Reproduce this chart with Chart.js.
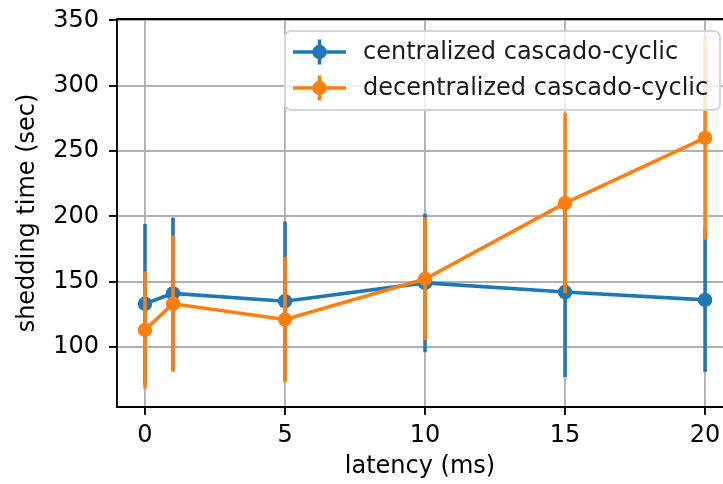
<!DOCTYPE html>
<html>
<head>
<meta charset="utf-8">
<script src="https://cdn.jsdelivr.net/npm/chart.js@4"></script>
<style>
  html, body { margin: 0; padding: 0; background: #fff; }
  #wrap { width: 723px; height: 484px; }
</style>
</head>
<body>
<div id="wrap"><canvas id="grafico"></canvas></div>
<script>
// latency values (ms)
const latency = [0, 1, 5, 10, 15, 20];
// shedding time (sec), mean and half error bar
const centralized = [133, 141, 135, 149, 142, 136];
const centralizedErr = [61, 58, 61, 53, 65, 55];
const decentralized = [113, 133, 121, 152, 210, 260];
const decentralizedErr = [45, 52, 48, 47, 69, 78];
const xTicks = [0, 5, 10, 15, 20];
const yTicks = [100, 150, 200, 250, 300, 350];
const seriesNames = ['centralized cascado-cyclic', 'decentralized cascado-cyclic'];

const BLUE = '#1f77b4';
const ORANGE = '#ff7f0e';
const FONT = 'DejaVu Sans';
const LW = 3.6;

Chart.defaults.font.family = FONT;
Chart.defaults.font.size = 24;
Chart.defaults.color = '#000';

function points(ys) {
  return latency.map((x, i) => ({ x: x, y: ys[i] }));
}

/* error bars, drawn under each dataset's line */
const errorBars = {
  id: 'errorBars',
  beforeDatasetDraw(chart, args) {
    const ds = chart.data.datasets[args.index];
    const xs = chart.scales.x, ys = chart.scales.y;
    const ctx = chart.ctx;
    const area = chart.chartArea;
    ctx.save();
    ctx.beginPath();
    ctx.rect(area.left, area.top, area.right - area.left, area.bottom - area.top);
    ctx.clip();
    ctx.strokeStyle = ds.borderColor;
    ctx.lineWidth = LW;
    ctx.beginPath();
    ds.data.forEach((p, i) => {
      const px = xs.getPixelForValue(p.x);
      ctx.moveTo(px, ys.getPixelForValue(p.y - ds.err[i]));
      ctx.lineTo(px, ys.getPixelForValue(p.y + ds.err[i]));
    });
    ctx.stroke();
    ctx.restore();
  }
};

/* top spine + matplotlib style legend box */
const frameLegend = {
  id: 'frameLegend',
  afterDraw(chart) {
    const ctx = chart.ctx;
    const a = chart.chartArea;
    ctx.save();
    ctx.strokeStyle = '#000';
    ctx.lineWidth = 1.9;
    ctx.beginPath();
    ctx.moveTo(a.left - 1, a.top);
    ctx.lineTo(a.right, a.top);
    ctx.stroke();

    // legend box
    const bx = 285, by = 31, bw = 435, bh = 79, r = 6;
    ctx.beginPath();
    ctx.moveTo(bx + r, by);
    ctx.arcTo(bx + bw, by, bx + bw, by + bh, r);
    ctx.arcTo(bx + bw, by + bh, bx, by + bh, r);
    ctx.arcTo(bx, by + bh, bx, by, r);
    ctx.arcTo(bx, by, bx + bw, by, r);
    ctx.closePath();
    ctx.fillStyle = 'rgba(255,255,255,0.8)';
    ctx.fill();
    ctx.strokeStyle = '#d6d6d6';
    ctx.lineWidth = 1.9;
    ctx.stroke();

    const colors = [BLUE, ORANGE];
    const rows = [52, 88];
    rows.forEach((yy, i) => {
      ctx.strokeStyle = colors[i];
      ctx.fillStyle = colors[i];
      ctx.lineWidth = LW;
      ctx.beginPath();
      ctx.moveTo(293, yy);
      ctx.lineTo(346, yy);
      ctx.moveTo(319.5, yy - 12.5);
      ctx.lineTo(319.5, yy + 12.5);
      ctx.stroke();
      ctx.beginPath();
      ctx.arc(319.5, yy, 7.2, 0, Math.PI * 2);
      ctx.fill();
      ctx.fillStyle = '#1a1a1a';
      ctx.font = '24px "' + FONT + '"';
      ctx.textBaseline = 'middle';
      ctx.fillText(seriesNames[i], 363, yy + 1);
    });
    ctx.restore();
  }
};

const ctx = document.getElementById('grafico');
const myChart = new Chart(ctx, {
  type: 'line',
  data: {
    datasets: [{
      label: seriesNames[0],
      data: points(centralized),
      err: centralizedErr,
      borderColor: BLUE,
      backgroundColor: BLUE,
      borderWidth: LW,
      pointRadius: 7.2,
      pointBorderWidth: 0,
      pointBackgroundColor: BLUE,
      order: 1
    }, {
      label: seriesNames[1],
      data: points(decentralized),
      err: decentralizedErr,
      borderColor: ORANGE,
      backgroundColor: ORANGE,
      borderWidth: LW,
      pointRadius: 7.2,
      pointBorderWidth: 0,
      pointBackgroundColor: ORANGE,
      order: 0
    }]
  },
  options: {
    responsive: true,
    maintainAspectRatio: false,
    animation: false,
    layout: { autoPadding: false, padding: { top: 19, left: 0, right: 0, bottom: 0 } },
    scales: {
      x: {
        type: 'linear',
        min: -1,
        max: 20.64,
        afterFit: (s) => { s.height = 77; s.paddingLeft = 0; s.paddingRight = 0; },
        afterBuildTicks: (s) => { s.ticks = xTicks.map(v => ({ value: v })); },
        ticks: { padding: 6, maxRotation: 0, color: '#000' },
        grid: { color: '#b0b0b0', lineWidth: 1.9, tickLength: 8, tickColor: '#000', tickWidth: 1.9 },
        border: { color: '#000', width: 1.9 },
        title: { display: true, text: 'latency (ms)', color: '#000', padding: { top: 0, bottom: 3 } }
      },
      y: {
        min: 54,
        max: 351,
        afterFit: (s) => { s.width = 117; s.paddingTop = 0; s.paddingBottom = 0; },
        afterBuildTicks: (s) => { s.ticks = yTicks.map(v => ({ value: v })); },
        ticks: { padding: 10, color: '#000' },
        grid: { color: '#b0b0b0', lineWidth: 1.9, tickLength: 8, tickColor: '#000', tickWidth: 1.9 },
        border: { color: '#000', width: 1.9 },
        title: { display: true, text: 'shedding time (sec)', color: '#000', padding: { top: 13, bottom: 0 } }
      }
    },
    plugins: {
      legend: { display: false },
      tooltip: { enabled: false }
    }
  },
  plugins: [errorBars, frameLegend]
});
</script>
</body>
</html>
